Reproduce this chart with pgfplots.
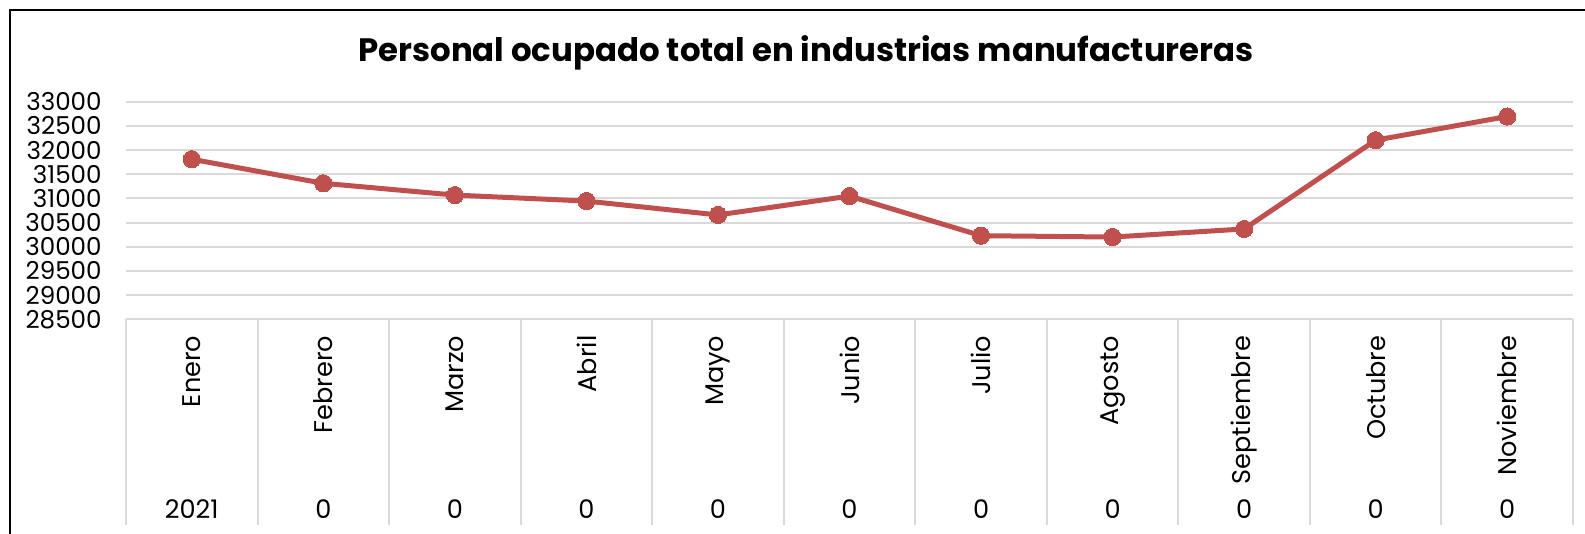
\documentclass[border=0pt]{standalone}
\usepackage{fontspec}
\setmainfont{Poppins}
\usepackage{pgfplots}
\pgfplotsset{compat=1.18}
\definecolor{serie}{HTML}{C0504D}
\definecolor{gridc}{HTML}{D9D9D9}
\begin{document}
\begin{tikzpicture}
\useasboundingbox (0,0) rectangle (792.5pt,267pt);
\draw[black, line width=1.1pt] (5pt,-2pt) -- (5pt,262pt) -- (800pt,262pt);
\node[anchor=base, font=\bfseries\fontsize{16.2}{19}\selectfont] at (403pt,236.2pt) {Personal ocupado total en industrias manufactureras};
\begin{axis}[
  at={(63pt,107.35pt)}, anchor=south west,
  scale only axis, width=723.5pt, height=108.8pt,
  xmin=-0.5, xmax=10.5, ymin=28500, ymax=33000,
  ytick={28500,29000,...,33000},
  xtick={0,...,10},
  xticklabels={Enero,Febrero,Marzo,Abril,Mayo,Junio,Julio,Agosto,Septiembre,Octubre,Noviembre},
  minor xtick={-0.5,0.5,...,10.5},
  minor tick length=103pt, major tick length=0pt,
  tick align=outside,
  minor x tick style={draw=gridc, line width=1pt},
  axis x line*=bottom, axis y line*=left,
  axis line style={draw=none},
  ytick style={draw=none},
  ymajorgrids, major grid style={draw=gridc, line width=1pt},
  xticklabel shift=8pt, yticklabel shift=12pt,
  xticklabel style={rotate=90, anchor=east, inner sep=0pt, font=\fontsize{12.8}{14}\selectfont},
  yticklabel style={anchor=east, inner sep=0pt, font=\fontsize{12.3}{14}\selectfont},
  /pgf/number format/assume math mode=true,
  /pgf/number format/set thousands separator={},
  scaled y ticks=false,
  clip=false,
]
\addplot[serie, line width=2.5pt, mark=*, mark size=4.3pt, mark options={fill=serie, draw=serie, line width=0pt}]
  coordinates {(0,31810) (1,31312) (2,31069) (3,30945) (4,30658) (5,31048) (6,30229) (7,30201) (8,30368) (9,32205) (10,32694)};
\begin{scope}[every node/.style={anchor=base, font=\fontsize{12.8}{14}\selectfont, inner sep=0pt}]
\node[yshift=-99.5pt] at (axis cs:0,28500) {2021};
\node[yshift=-99.5pt] at (axis cs:1,28500) {0};
\node[yshift=-99.5pt] at (axis cs:2,28500) {0};
\node[yshift=-99.5pt] at (axis cs:3,28500) {0};
\node[yshift=-99.5pt] at (axis cs:4,28500) {0};
\node[yshift=-99.5pt] at (axis cs:5,28500) {0};
\node[yshift=-99.5pt] at (axis cs:6,28500) {0};
\node[yshift=-99.5pt] at (axis cs:7,28500) {0};
\node[yshift=-99.5pt] at (axis cs:8,28500) {0};
\node[yshift=-99.5pt] at (axis cs:9,28500) {0};
\node[yshift=-99.5pt] at (axis cs:10,28500) {0};
\end{scope}
\end{axis}
\end{tikzpicture}
\end{document}
